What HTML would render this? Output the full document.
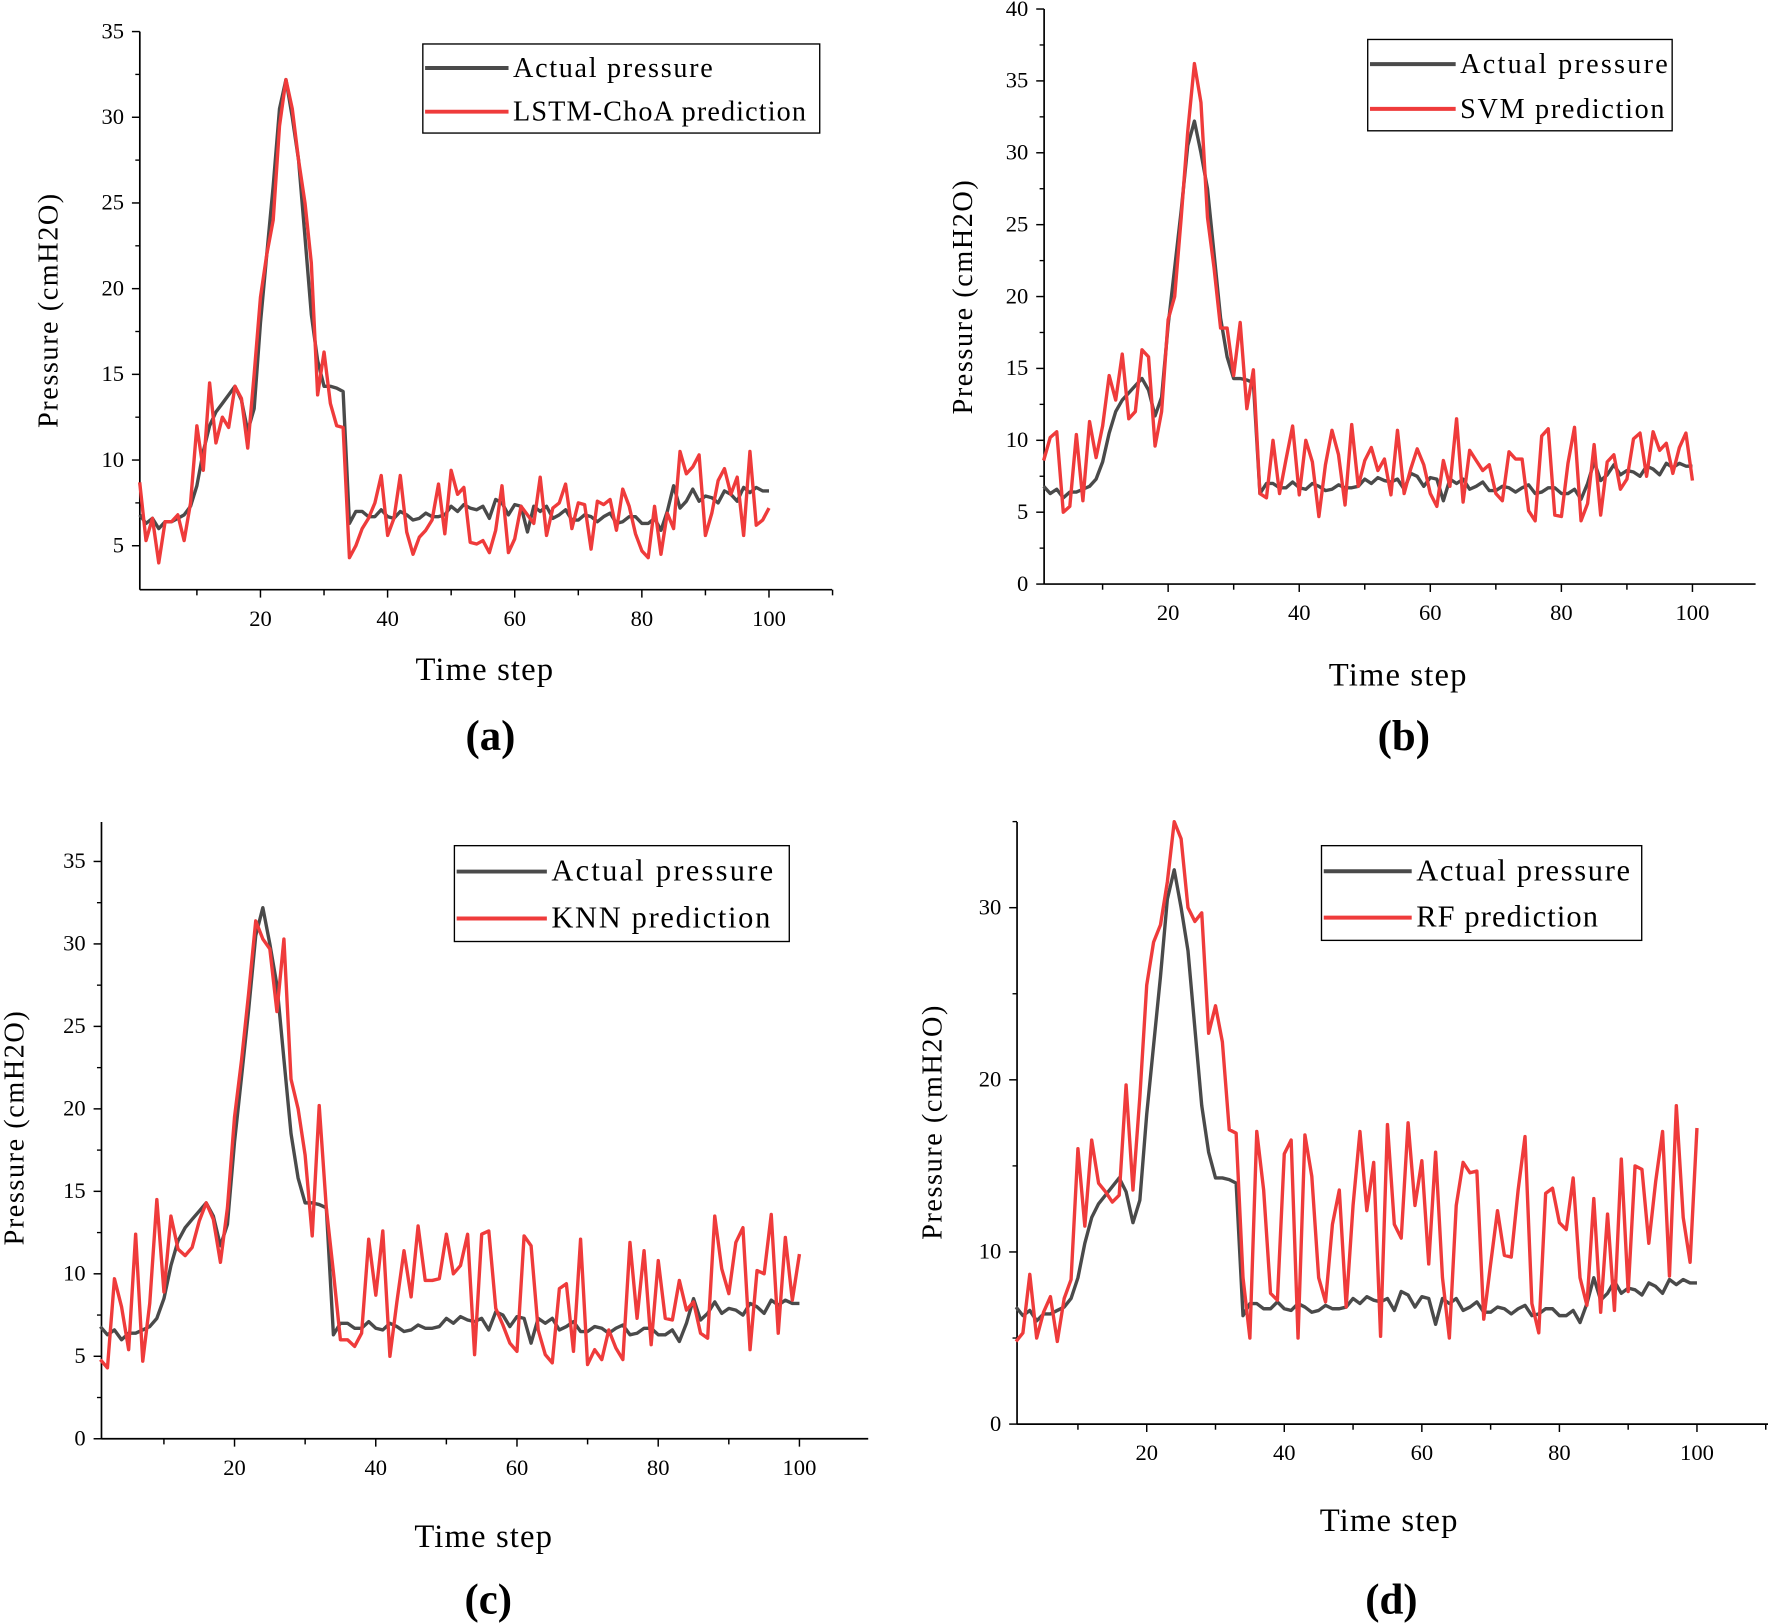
<!DOCTYPE html>
<html><head><meta charset="utf-8"><style>
html,body{margin:0;padding:0;background:#fff}
svg{display:block}
text{font-family:"Liberation Serif",serif;fill:#000}
</style></head><body>
<svg id="s" width="1768" height="1623" viewBox="0 0 1568 1439.4" xmlns="http://www.w3.org/2000/svg"></svg>
<script>
const A=[6.8,6.3,6.6,6.0,6.4,6.4,6.6,6.8,7.3,8.5,10.5,12,12.8,13.3,13.8,14.3,13.5,11.7,13,18,22,26,30.5,32.2,30,27.5,23,18.5,15.8,14.3,14.3,14.2,14.0,6.3,7,7,6.7,6.7,7.1,6.7,6.6,7.0,6.8,6.5,6.6,6.9,6.7,6.7,6.8,7.3,7.0,7.4,7.2,7.1,7.3,6.6,7.7,7.5,6.8,7.4,7.3,5.8,7.3,7.0,7.3,6.6,6.8,7.1,6.5,6.5,6.8,6.7,6.4,6.7,6.9,6.3,6.4,6.7,6.7,6.3,6.3,6.6,5.9,7.0,8.5,7.2,7.6,8.3,7.6,7.9,7.8,7.5,8.2,8.0,7.6,8.4,8.1,8.4,8.2,8.2];
const L=[8.7,5.3,6.6,4.0,6.4,6.4,6.8,5.3,7.5,12,9.4,14.5,11,12.5,11.9,14.3,13.6,10.7,15,19.5,22,24,29.5,32.2,30.5,27.5,25,21.5,13.8,16.3,13.3,12,11.9,4.3,5,6,6.6,7.5,9.1,5.6,6.6,9.1,5.8,4.5,5.5,5.9,6.5,8.6,5.7,9.4,8.0,8.4,5.2,5.1,5.3,4.6,5.9,8.5,4.6,5.4,7.3,6.8,6.3,9.0,5.6,7.2,7.5,8.6,6.0,7.5,7.4,4.8,7.6,7.4,7.7,5.9,8.3,7.3,5.7,4.7,4.3,7.3,4.5,6.9,6.0,10.5,9.2,9.6,10.3,5.6,6.9,8.8,9.5,8.0,9.0,5.6,10.5,6.2,6.5,7.2];
const S=[8.6,10.2,10.6,5,5.4,10.4,5.8,11.3,8.8,11,14.5,12.8,16,11.5,12,16.3,15.8,9.6,12,18.4,20,25.5,31.5,36.2,33.5,25.5,22,17.8,17.8,14.5,18.2,12.2,14.9,6.3,6.0,10,6.3,8.7,11,6.2,10,8.5,4.7,8.3,10.7,9.0,5.5,11.1,6.8,8.6,9.5,7.9,8.7,6.2,10.7,6.3,8.0,9.4,8.3,6.3,5.4,8.6,6.8,11.5,5.7,9.3,8.6,7.9,8.3,6.3,5.8,9.2,8.7,8.7,5.1,4.4,10.3,10.8,4.8,4.7,8.4,10.9,4.4,5.6,9.7,4.8,8.5,9.0,6.6,7.3,10.1,10.5,7.5,10.6,9.3,9.8,7.7,9.5,10.5,7.2];
const K=[4.8,4.3,9.7,8,5.4,12.4,4.7,8.2,14.5,8.9,13.5,11.5,11.1,11.6,13.2,14.3,13.3,10.7,14,19.5,23,27,31.4,30.3,29.7,25.9,30.3,21.8,20,17.2,12.3,20.2,14,10.1,6.0,6.0,5.6,6.4,12.1,8.7,12.6,5.0,8.3,11.4,8.6,12.9,9.6,9.6,9.7,12.4,10.0,10.5,12.4,5.1,12.4,12.6,7.9,6.9,5.8,5.3,12.3,11.7,6.6,5.1,4.6,9.1,9.4,5.3,12.1,4.5,5.4,4.8,6.6,5.5,4.8,11.9,7.3,11.4,5.7,10.8,7.3,7.2,9.6,7.8,8.3,6.4,6.1,13.5,10.3,8.8,11.9,12.8,5.4,10.2,10.0,13.6,6.4,12.2,8.4,11.2];
const R=[4.8,5.3,8.7,5,6.5,7.4,4.8,7.3,8.4,16,11.5,16.5,14,13.5,12.9,13.3,19.7,13.6,19,25.5,28,29,31.5,35,34,30,29.2,29.7,22.7,24.3,22.2,17.1,16.9,8.5,5.0,17,13.6,7.6,7.2,15.7,16.5,5.0,16.8,14.4,8.5,7.1,11.6,13.6,6.8,12.7,17,12.4,15.2,5.1,17.4,11.6,10.8,17.5,12.7,15.3,9.3,15.8,8.5,5.0,12.7,15.2,14.6,14.7,6.1,9.3,12.4,9.8,9.7,13.6,16.7,7.0,5.3,13.4,13.7,11.7,11.3,14.3,8.5,6.9,13.1,6.5,12.2,6.6,15.4,7.7,15,14.8,10.5,14.1,17,8.6,18.5,12,9.4,17.2];
const P=[
{x0:124,xr:738,ay:523,ytop:28,x20:231,x100:682,y0:484,v0:5,y1:28,v1:35,yt:[5,10,15,20,25,30,35],minY:[7.5,12.5,17.5,22.5,27.5,32.5],pred:L,name:"LSTM-ChoA prediction",lg:[375,39,727,118],fs:25,ls:1.5,ll:76,yl:[42,275],ts:[430,593],lab:[435,652,"(a)"]},
{x0:926,xr:1557,ay:518,ytop:8,x20:1036,x100:1501,y0:518,v0:0,y1:8,v1:40,yt:[0,5,10,15,20,25,30,35,40],minY:[2.5,7.5,12.5,17.5,22.5,27.5,32.5,37.5],pred:S,name:"SVM prediction",lg:[1213,35,1483,116],fs:25,ls:2,ll:78,yl:[853,263],ts:[1240,598],lab:[1245,652,"(b)"]},
{x0:90,xr:770,ay:1276,ytop:729,x20:208,x100:709,y0:1276,v0:0,y1:764,v1:35,yt:[0,5,10,15,20,25,30,35],minY:[2.5,7.5,12.5,17.5,22.5,27.5,32.5],pred:K,name:"KNN prediction",lg:[403,750,700,835],fs:27,ls:2,ll:82,yl:[12,1000],ts:[429,1362],lab:[433,1418,"(c)"]},
{x0:902,xr:1568,ay:1263,ytop:729,x20:1017,x100:1505,y0:1263,v0:0,y1:805,v1:30,yt:[0,10,20,30],minY:[5,15,25,35],pred:R,name:"RF prediction",lg:[1172,750,1456,834],fs:27,ls:1.5,ll:80,yl:[826,995],ts:[1232,1348],lab:[1234,1418,"(d)"]}];
let h='';
for(const p of P){
 const sx=(p.x100-p.x20)/80, X=t=>p.x20+(t-20)*sx;
 const sy=(p.y0-p.y1)/(p.v1-p.v0), Y=v=>p.y0-(v-p.v0)*sy;
 h+=`<line x1="${p.x0}" y1="${p.ay}" x2="${p.xr}" y2="${p.ay}" stroke="#000" stroke-width="1.5"/>`;
 h+=`<line x1="${p.x0}" y1="${p.ytop}" x2="${p.x0}" y2="${p.ay}" stroke="#000" stroke-width="1.5"/>`;
 for(let t=10;t<=110;t+=10){const x=X(t);if(x>p.xr+1)break;const big=t%20==0;h+=`<line x1="${x}" y1="${p.ay}" x2="${x}" y2="${p.ay+(big?7:5)}" stroke="#000" stroke-width="1.3"/>`;if(big&&t<=100)h+=`<text x="${x}" y="${p.ay+32}" font-size="20" text-anchor="middle">${t}</text>`;}
 for(const v of p.yt){const y=Y(v);h+=`<line x1="${p.x0}" y1="${y}" x2="${p.x0-7}" y2="${y}" stroke="#000" stroke-width="1.3"/><text x="${p.x0-14}" y="${y+6}" font-size="20" text-anchor="end">${v}</text>`;}
 for(const v of p.minY){const y=Y(v);if(y<p.ytop-1)continue;h+=`<line x1="${p.x0}" y1="${y}" x2="${p.x0-4}" y2="${y}" stroke="#000" stroke-width="1.2"/>`;}
 const pts=a=>a.map((v,i)=>X(i+1).toFixed(1)+','+Y(v).toFixed(1)).join(' ');
 h+=`<polyline points="${pts(A)}" fill="none" stroke="#4a4a4a" stroke-width="3" stroke-linejoin="round"/>`;
 h+=`<polyline points="${pts(p.pred)}" fill="none" stroke="#ef3b3b" stroke-width="3" stroke-linejoin="round"/>`;
 const [l,t,r,b]=p.lg;
 h+=`<rect x="${l}" y="${t}" width="${r-l}" height="${b-t}" fill="#fff" stroke="#000" stroke-width="1.2"/>`;
 const y1=t+(b-t)*0.27,y2=t+(b-t)*0.76;
 h+=`<line x1="${l+2}" y1="${y1}" x2="${l+p.ll}" y2="${y1}" stroke="#4a4a4a" stroke-width="3.5"/><line x1="${l+2}" y1="${y2}" x2="${l+p.ll}" y2="${y2}" stroke="#ef3b3b" stroke-width="3.5"/>`;
 h+=`<text x="${l+p.ll+4}" y="${y1+8}" font-size="${p.fs}" letter-spacing="${p.ls}">Actual pressure</text><text x="${l+p.ll+4}" y="${y2+8}" font-size="${p.fs}" letter-spacing="${p.ls-0.5}">${p.name}</text>`;
 h+=`<text transform="translate(${p.yl[0]+9},${p.yl[1]}) rotate(-90)" font-size="25" text-anchor="middle" letter-spacing="1.4">Pressure (cmH2O)</text>`;
 h+=`<text x="${p.ts[0]}" y="${p.ts[1]+10}" font-size="29" text-anchor="middle" letter-spacing="1">Time step</text>`;
 h+=`<text x="${p.lab[0]}" y="${p.lab[1]+13}" font-size="38" font-weight="bold" text-anchor="middle">${p.lab[2]}</text>`;
}
document.getElementById('s').innerHTML=h;
</script>
</body></html>
